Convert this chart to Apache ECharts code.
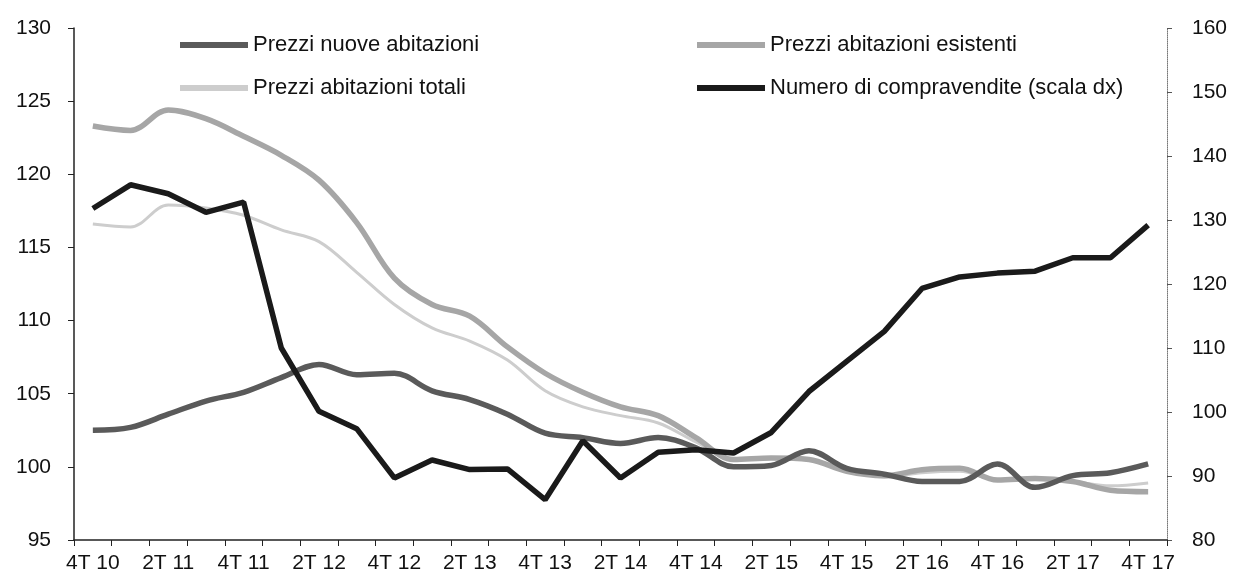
<!DOCTYPE html>
<html>
<head>
<meta charset="utf-8">
<script src="https://cdn.jsdelivr.net/npm/echarts@6/dist/echarts.min.js"></script>
<style>
  html, body { margin: 0; padding: 0; background: #fff; }
  #chart { width: 1233px; height: 583px; }
</style>
</head>
<body>
<div id="chart"></div>
<script>
const categories = ['4T 10','1T 11','2T 11','3T 11','4T 11','1T 12','2T 12','3T 12','4T 12','1T 13','2T 13','3T 13','4T 13','1T 14','2T 14','3T 14','4T 14','1T 15','2T 15','3T 15','4T 15','1T 16','2T 16','3T 16','4T 16','1T 17','2T 17','3T 17','4T 17'];

const nuove = [102.5, 102.7, 103.6, 104.5, 105.1, 106.1, 107.0, 106.3, 106.4, 105.2, 104.6, 103.6, 102.3, 102.0, 101.6, 102.0, 101.3, 100.0, 100.1, 101.1, 99.9, 99.5, 99.0, 99.0, 100.2, 98.6, 99.4, 99.6, 100.2];

const esistenti = [123.3, 123.0, 124.4, 123.8, 122.6, 121.3, 119.6, 116.7, 112.9, 111.1, 110.3, 108.2, 106.4, 105.1, 104.1, 103.5, 102.0, 100.5, 100.6, 100.5, 99.7, 99.4, 99.8, 99.9, 99.1, 99.2, 99.0, 98.4, 98.3];

const totali = [116.6, 116.4, 117.9, 117.7, 117.2, 116.2, 115.4, 113.3, 111.1, 109.5, 108.6, 107.3, 105.2, 104.1, 103.5, 103.0, 101.7, 100.5, 100.6, 100.5, 99.8, 99.3, 99.6, 99.7, 99.1, 99.2, 99.0, 98.7, 98.9];

const compravendite = [131.8, 135.5, 134.1, 131.2, 132.8, 110.0, 100.1, 97.4, 89.7, 92.5, 91.0, 91.1, 86.3, 95.5, 89.7, 93.7, 94.1, 93.6, 96.8, 103.2, 107.9, 112.6, 119.3, 121.1, 121.7, 122.0, 124.1, 124.1, 129.2];

const names = ['Prezzi nuove abitazioni', 'Prezzi abitazioni esistenti', 'Prezzi abitazioni totali', 'Numero di compravendite (scala dx)'];

const FONT = "'Liberation Sans', Arial, sans-serif";

const chart = echarts.init(document.getElementById('chart'), null, { renderer: 'canvas' });

const legendCommon = {
  orient: 'vertical',
  top: 34,
  padding: 0,
  itemWidth: 68,
  itemHeight: 6,
  itemGap: 21,
  icon: 'rect',
  selectedMode: false,
  textStyle: { color: '#111', fontSize: 22, fontFamily: FONT }
};

chart.setOption({
  animation: false,
  backgroundColor: '#ffffff',
  grid: { left: 74, right: 66, top: 28, bottom: 43, containLabel: false },
  legend: [
    Object.assign({}, legendCommon, { left: 180, data: [names[0], names[2]] }),
    Object.assign({}, legendCommon, { left: 697, data: [names[1], names[3]] })
  ],
  xAxis: {
    type: 'category',
    data: categories,
    boundaryGap: true,
    axisLine: { lineStyle: { color: '#222', width: 1.5 } },
    axisTick: { show: true, interval: 0, length: 6, inside: false, lineStyle: { color: '#222' } },
    axisLabel: { interval: 1, color: '#111', fontSize: 21, fontFamily: FONT, margin: 13 },
    splitLine: { show: false }
  },
  yAxis: [
    {
      type: 'value',
      min: 95, max: 130, interval: 5,
      axisLine: { show: true, lineStyle: { color: '#222', width: 1.5 } },
      axisTick: { show: true, length: 6, lineStyle: { color: '#222' } },
      axisLabel: { color: '#111', fontSize: 21, fontFamily: FONT, margin: 23 },
      splitLine: { show: false }
    },
    {
      type: 'value',
      min: 80, max: 160, interval: 10,
      position: 'right',
      axisLine: { show: true, lineStyle: { color: '#777', width: 1, type: 'dotted' } },
      axisTick: { show: true, length: 5, lineStyle: { color: '#555' } },
      axisLabel: { color: '#111', fontSize: 21, fontFamily: FONT, margin: 25 },
      splitLine: { show: false }
    }
  ],
  series: [
    {
      name: names[2], type: 'line', data: totali, yAxisIndex: 0,
      symbol: 'none', smooth: 0.35,
      lineStyle: { color: '#cdcdcd', width: 3 },
      itemStyle: { color: '#cdcdcd' }, z: 2
    },
    {
      name: names[1], type: 'line', data: esistenti, yAxisIndex: 0,
      symbol: 'none', smooth: 0.35,
      lineStyle: { color: '#a6a6a6', width: 5.5 },
      itemStyle: { color: '#a6a6a6' }, z: 3
    },
    {
      name: names[0], type: 'line', data: nuove, yAxisIndex: 0,
      symbol: 'none', smooth: 0.35,
      lineStyle: { color: '#5a5a5a', width: 5.5 },
      itemStyle: { color: '#5a5a5a' }, z: 4
    },
    {
      name: names[3], type: 'line', data: compravendite, yAxisIndex: 1,
      symbol: 'none', smooth: false,
      lineStyle: { color: '#1a1a1a', width: 5.5 },
      itemStyle: { color: '#1a1a1a' }, z: 5
    }
  ]
});
</script>
</body>
</html>
